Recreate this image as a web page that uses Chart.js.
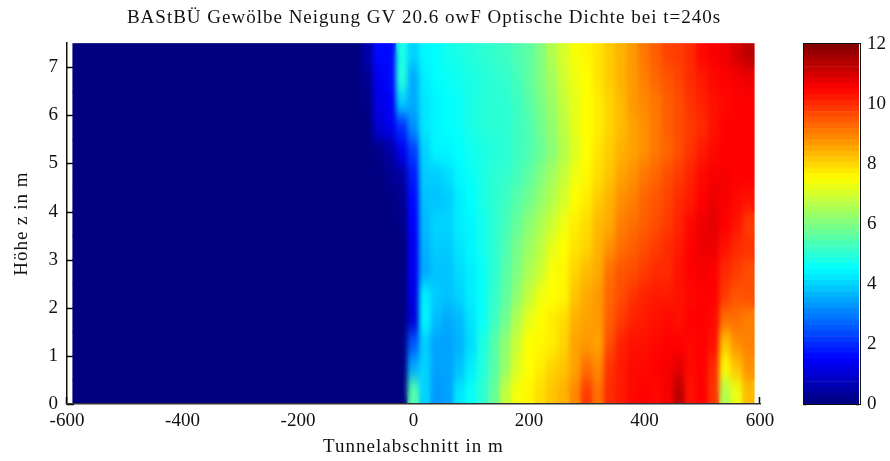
<!DOCTYPE html>
<html>
<head>
<meta charset="utf-8">
<title>Optische Dichte</title>
<script src="https://cdn.jsdelivr.net/npm/chart.js@4/dist/chart.umd.min.js"></script>
<style>
	html, body { margin: 0; padding: 0; background: #fff; overflow: hidden; }
	canvas { position: absolute; top: 0; }
	#heat { left: 0; }
	#bar { left: 790px; }
</style>
</head>
<body>
<svg width="0" height="0" style="position:absolute">
	<filter id="soft" color-interpolation-filters="sRGB">
		<feGaussianBlur stdDeviation="2.5 8"></feGaussianBlur>
	</filter>
</svg>
<canvas id="heat" width="890" height="461"></canvas>
<canvas id="bar" width="100" height="461"></canvas>
<script>
const titleText = "BAStBÜ Gewölbe Neigung GV 20.6 owF Optische Dichte bei t=240s";
const xLabel = "Tunnelabschnitt in m";
const yLabel = "Höhe z in m";

// centre of every tunnel column in m
const columns = [-580, -560, -540, -520, -500, -480, -460, -440, -420, -400, -380, -360,
	-340, -320, -300, -280, -260, -240, -220, -200, -180, -160, -140, -120, -100, -80, -60,
	-40, -20, 0, 20, 40, 60, 80, 100, 120, 140, 160, 180, 200, 220, 240, 260, 280, 300, 320,
	340, 360, 380, 400, 420, 440, 460, 480, 500, 520, 540, 560, 580];

// lower edge of every row in m, each row is 0.5 m high
const heights = [0, 0.5, 1, 1.5, 2, 2.5, 3, 3.5, 4, 4.5, 5, 5.5, 6, 6.5, 7];
const rowHeight = [0.5];

// everything left of -120 m is still clear
const clear = [0, 0, 0, 0, 0, 0, 0, 0, 0, 0, 0, 0, 0, 0, 0, 0, 0, 0, 0, 0, 0, 0, 0];

// optical density per row, same order as heights, columns from -120 m on
const row00 = [0,0,0,0,0,0,5.5, 4.0,3.3,3.4,4.2,4.6,5.0,5.7,6.8,7.4,7.6,7.9, 8.2,8.4,8.9,9.8,9.2,10.0,10.2,10.4,10.5,10.4,10.6,11.3,10.3,10.5,9.9,6.6,7.3,8.3];
const row05 = [0,0,0,0,0,0,3.5, 4.0,3.4,3.4,3.8,4.3,4.9,5.5,6.3,7.1,7.5,7.7, 8.0,8.2,8.6,9.2,8.9,9.9,10.2,10.4,10.4,10.5,10.6,10.8,10.4,10.5,10.0,7.6,8.2,8.8];
const row10 = [0,0,0,0,0,0,2.5, 3.9,3.4,3.4,3.6,4.1,4.8,5.5,6.2,6.9,7.5,7.6, 7.7,8.0,8.6,8.7,8.6,9.6,10.1,10.3,10.3,10.4,10.5,10.5,10.4,10.5,10.3,8.2,8.8,9.0];
const row15 = [0,0,0,0,0,0,1.0, 4.4,3.7,3.5,3.7,4.2,4.6,5.2,5.8,6.6,7.2,7.5, 7.7,7.9,8.4,8.6,8.7,9.4,9.8,10.1,10.2,10.3,10.4,10.3,10.5,10.5,10.4,9.2,9.2,9.0];
const row20 = [0,0,0,0,0,0,1.2, 4.3,3.9,3.8,4.0,4.3,4.6,5.1,5.6,6.2,6.8,7.3, 7.5,7.6,8.2,8.5,8.7,9.3,9.6,9.9,10.1,10.2,10.2,10.3,10.4,10.5,10.5,9.8,9.5,9.6];
const row25 = [0,0,0,0,0,0,1.3, 3.5,3.8,3.8,4.1,4.3,4.6,5.0,5.5,6.0,6.5,6.9, 7.4,7.6,8.0,8.3,8.5,9.2,9.5,9.6,9.8,10.0,10.0,10.3,10.5,10.6,10.5,10.0,9.8,9.6];
const row30 = [0,0,0,0,0,0,1.3, 3.6,3.9,3.9,4.2,4.4,4.7,5.0,5.4,5.9,6.3,6.7, 7.2,7.5,7.8,8.0,8.4,8.8,9.2,9.4,9.6,9.8,10.0,10.2,10.5,10.7,10.7,10.3,10.0,9.9];
const row35 = [0,0,0,0,0,0.1,1.5, 3.7,4.0,4.0,4.3,4.4,4.7,5.0,5.3,5.7,6.1,6.5, 6.9,7.3,7.7,7.9,8.3,8.5,9.0,9.2,9.4,9.6,9.8,10.1,10.4,10.7,10.8,10.5,10.3,9.8];
const row40 = [0,0,0,0,0,0.2,1.6, 3.8,3.8,3.9,4.3,4.5,4.8,5.0,5.2,5.5,5.8,6.2, 6.6,7.0,7.5,7.7,8.1,8.4,8.8,9.0,9.3,9.5,9.7,10.0,10.2,10.5,10.7,10.6,10.4,10.3];
const row45 = [0,0,0,0,0.2,0.4,1.8, 3.9,3.9,4.1,4.4,4.6,4.8,5.0,5.1,5.3,5.6,6.0, 6.4,6.8,7.3,7.6,7.9,8.2,8.6,8.8,9.1,9.3,9.6,9.8,10.1,10.4,10.6,10.6,10.5,10.5];
const row50 = [0,0,0,0.1,0.4,1.3,2.2, 4.0,4.4,4.4,4.5,4.7,4.8,4.9,5.0,5.2,5.4,5.7, 6.1,6.6,7.1,7.5,7.8,8.1,8.4,8.6,8.8,9.1,9.3,9.6,9.9,10.2,10.4,10.5,10.5,10.5];
const row55 = [0,0,0,1.0,1.3,2.0,3.2, 4.2,4.4,4.5,4.6,4.8,4.9,5.0,5.0,5.2,5.4,5.8, 6.2,6.7,7.2,7.5,7.7,8.0,8.3,8.6,8.8,9.1,9.4,9.6,9.8,10.0,10.3,10.5,10.5,10.5];
const row60 = [0,0,0.1,1.2,1.4,3.9,3.5, 4.2,4.4,4.5,4.6,4.8,4.9,5.0,5.0,5.2,5.5,5.9, 6.3,6.8,7.2,7.5,7.7,8.0,8.3,8.7,8.9,9.1,9.4,9.6,9.9,10.1,10.3,10.4,10.5,10.5];
const row65 = [0,0,0.2,1.3,1.6,4.9,3.5, 4.3,4.5,4.6,4.7,4.8,4.9,5.0,5.1,5.3,5.6,6.0, 6.4,6.9,7.3,7.5,7.8,8.1,8.4,8.7,9.0,9.3,9.5,9.7,10.0,10.2,10.4,10.5,10.6,10.7];
const row70 = [0,0,0.5,1.6,1.6,4.8,4.0, 4.4,4.5,4.7,4.8,4.9,5.0,5.1,5.2,5.4,5.6,6.0, 6.6,7.0,7.4,7.6,7.8,8.1,8.4,8.7,9.1,9.4,9.7,9.8,10.0,10.4,10.6,10.7,11.0,11.3];
const rows = [row00, row05, row10, row15, row20, row25, row30, row35, row40, row45, row50, row55, row60, row65, row70];

// the 64 steps of the colour bar
const barSteps = [0, 0.1875, 0.375, 0.5625, 0.75, 0.9375, 1.125, 1.3125, 1.5, 1.6875, 1.875, 2.0625,
	2.25, 2.4375, 2.625, 2.8125, 3, 3.1875, 3.375, 3.5625, 3.75, 3.9375, 4.125, 4.3125,
	4.5, 4.6875, 4.875, 5.0625, 5.25, 5.4375, 5.625, 5.8125, 6, 6.1875, 6.375, 6.5625,
	6.75, 6.9375, 7.125, 7.3125, 7.5, 7.6875, 7.875, 8.0625, 8.25, 8.4375, 8.625, 8.8125,
	9, 9.1875, 9.375, 9.5625, 9.75, 9.9375, 10.125, 10.3125, 10.5, 10.6875, 10.875, 11.0625,
	11.25, 11.4375, 11.625, 11.8125];
const barStep = 0.1875;

const serif = "'Liberation Serif', serif";
const ink = "#111";

// matlab jet for a value between 0 and 12
function jet(value) {
	let t = value / 12;
	let part = function (centre) {
		return Math.round(255 * Math.max(0, Math.min(1, 1.5 - Math.abs(4 * t - centre))));
	};
	return "rgb(" + part(3) + "," + part(2) + "," + part(1) + ")";
}

// the ticks of the original point inwards and sit below the picture
const inwardTicks = {
	id: "inwardTicks",
	beforeDatasetsDraw(chart, args, opts) {
		let ctx = chart.ctx;
		let area = chart.chartArea;
		ctx.save();
		ctx.strokeStyle = "#000";
		ctx.lineWidth = 1.5;
		ctx.beginPath();
		for (let tick of chart.scales.y.ticks) {
			let py = Math.round(chart.scales.y.getPixelForValue(tick.value)) + 0.5;
			ctx.moveTo(area.left, py);
			ctx.lineTo(area.left + opts.length, py);
			if (opts.both) {
				ctx.moveTo(area.right, py);
				ctx.lineTo(area.right - opts.length, py);
			}
		}
		if (chart.scales.x.type === "linear") {
			for (let tick of chart.scales.x.ticks) {
				let px = Math.round(chart.scales.x.getPixelForValue(tick.value)) - 0.5;
				ctx.moveTo(px, area.bottom);
				ctx.lineTo(px, area.bottom - opts.length);
			}
		}
		ctx.stroke();
		ctx.restore();
	}
};

// shading interp: blur the painted cells once over themselves
const softCells = {
	id: "softCells",
	afterDatasetsDraw(chart) {
		let ctx = chart.ctx;
		let left = chart.scales.x.getPixelForValue(columns[0] - 10);
		let right = chart.scales.x.getPixelForValue(columns[columns.length - 1] + 10);
		let top = chart.chartArea.top;
		let h = chart.chartArea.bottom - top;
		ctx.save();
		ctx.beginPath();
		ctx.rect(left, top, right - left, h);
		ctx.clip();
		ctx.filter = "url(#soft)";
		ctx.drawImage(chart.canvas, left, top, right - left, h, left, top, right - left, h);
		ctx.restore();
	}
};

// keeps a text drawing call letter spaced, Liberation runs narrower than the original font
function spaced(ctx, box, method) {
	let plain = box[method];
	box[method] = function () {
		ctx.letterSpacing = "1px";
		plain.apply(box, arguments);
		ctx.letterSpacing = "0px";
	};
}

// title sits centred on 424 px in the original, not over the plot
const titleShift = {
	id: "titleShift",
	afterLayout(chart) {
		chart.titleBlock.left = 0;
		chart.titleBlock.right = 848;
		if (!chart.$spacedTexts) {
			chart.$spacedTexts = true;
			spaced(chart.ctx, chart.titleBlock, "draw");
			spaced(chart.ctx, chart.scales.x, "drawTitle");
			spaced(chart.ctx, chart.scales.y, "drawTitle");
		}
	}
};

const heatSets = heights.map(function (z, i) {
	let values = clear.concat(rows[i]);
	return {
		label: "z=" + z,
		data: columns.map(function (x) { return { x: x, y: rowHeight[0] }; }),
		backgroundColor: values.map(jet),
		borderWidth: 0,
		barPercentage: 1,
		categoryPercentage: 1
	};
});

new Chart(document.getElementById("heat"), {
	type: "bar",
	data: { datasets: heatSets },
	plugins: [inwardTicks, softCells, titleShift],
	options: {
		responsive: false,
		animation: false,
		layout: { padding: { left: 0, right: 130, top: 0, bottom: 0 } },
		plugins: {
			legend: { display: false },
			tooltip: { enabled: false },
			inwardTicks: { length: 7, both: false },
			title: {
				display: true,
				text: titleText,
				color: ink,
				font: { family: serif, size: 19, weight: "normal" },
				padding: { top: 7, bottom: 13.4 }
			}
		},
		scales: {
			x: {
				type: "linear",
				stacked: true,
				offset: false,
				min: -600,
				max: 600,
				afterFit(scale) { scale.height = 57; },
				grid: { display: false, drawTicks: false },
				border: { display: true, color: "#333", width: 1.5, z: 1 },
				ticks: {
					stepSize: 200,
					maxRotation: 0,
					color: ink,
					padding: 6,
					font: { family: serif, size: 19 }
				},
				title: {
					display: true,
					text: xLabel,
					color: ink,
					padding: { top: 2, bottom: 3 },
					font: { family: serif, size: 19 }
				}
			},
			y: {
				stacked: true,
				min: 0,
				max: 7.5,
				afterFit(scale) { scale.width = 67; },
				grid: { display: false, drawTicks: false },
				border: { display: true, color: "#111", width: 1.5 },
				ticks: {
					stepSize: 1,
					includeBounds: false,
					color: ink,
					padding: 9,
					font: { family: serif, size: 19 }
				},
				title: {
					display: true,
					text: yLabel,
					color: ink,
					padding: { top: 11, bottom: 0 },
					font: { family: serif, size: 19 }
				}
			}
		}
	}
});

// black frame round the colour bar, drawn with the plot scale edges
const barFrame = {
	id: "barFrame",
	afterDatasetsDraw(chart) {
		let area = chart.chartArea;
		let ctx = chart.ctx;
		let left = Math.round(area.left) - 0.5;
		let top = Math.round(area.top) - 0.5;
		ctx.save();
		ctx.strokeStyle = "#111";
		ctx.lineWidth = 1;
		ctx.strokeRect(left, top, Math.round(area.right - area.left) + 1, Math.round(area.bottom - area.top) + 1);
		ctx.restore();
	}
};

new Chart(document.getElementById("bar"), {
	type: "bar",
	data: {
		labels: ["Dichte"],
		datasets: barSteps.map(function (step) {
			return {
				label: String(step),
				data: [[step, step + barStep]],
				backgroundColor: jet(step + barStep / 2),
				borderWidth: 0,
				grouped: false,
				barPercentage: 1,
				categoryPercentage: 1
			};
		})
	},
	plugins: [barFrame, inwardTicks],
	options: {
		responsive: false,
		animation: false,
		layout: { padding: { left: 13.5, right: 0, top: 44, bottom: 57 } },
		plugins: {
			legend: { display: false },
			tooltip: { enabled: false },
			inwardTicks: { length: 3, both: true }
		},
		scales: {
			x: {
				display: false
			},
			y: {
				position: "right",
				min: 0,
				max: 12,
				afterFit(scale) { scale.width = 31; },
				grid: { display: false, drawTicks: false },
				border: { display: false },
				ticks: {
					stepSize: 2,
					color: ink,
					padding: 8,
					font: { family: serif, size: 19 }
				}
			}
		}
	}
});
</script>
</body>
</html>
